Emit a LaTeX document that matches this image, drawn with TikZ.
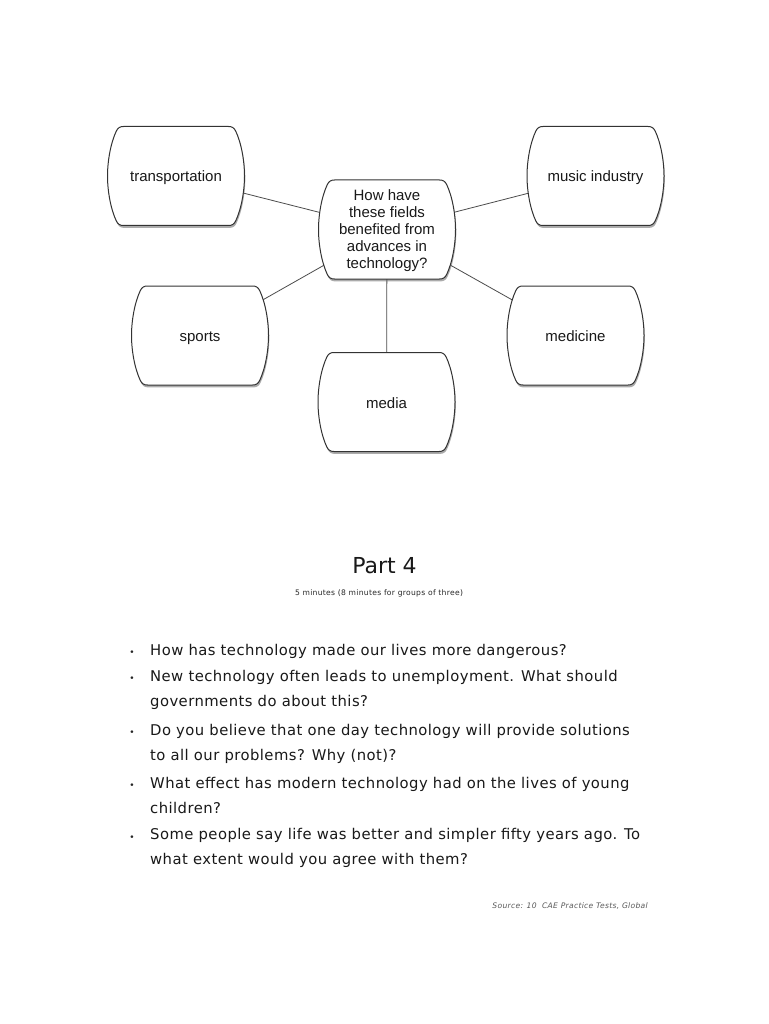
\documentclass[tikz,border=0pt]{standalone}
\usepackage{fontspec}
\setmainfont{Liberation Sans}
\newfontfamily\verd{DejaVu Sans}[LetterSpace=3]
\newfontfamily\verdsmall{DejaVu Sans}[LetterSpace=4]
\newfontfamily\verdplain{DejaVu Sans}
\usetikzlibrary{calc,backgrounds,shadows}
\tikzset{
  field/.style={rectangle, inner sep=0pt, outer sep=0pt, minimum width=137pt, minimum height=99pt, align=center, font=\fontsize{15}{17}\selectfont, text=black!90},
  one/.style={text height=12pt, text depth=0pt},
  bub/.style={draw=black!80, line width=1pt, fill=white, drop shadow={shadow xshift=0.8pt, shadow yshift=-2.4pt, fill=black!55, opacity=0.6}},
  link/.style={draw=black!70, line width=0.8pt},
  ques/.style={anchor=base west, align=left, inner sep=0pt, font=\verd\fontsize{14.8}{25}\selectfont, text=black!90},
  dot/.style={anchor=base, inner sep=0pt, font=\verdplain\fontsize{9}{9}\selectfont, text=black!85},
  small/.style={anchor=base, inner sep=0pt, font=\verdsmall\fontsize{7.6}{9}\selectfont, text=black!85}
}
% outline of one field box: flat top and bottom, bulging sides
\newcommand{\bubble}[1]{%
  \filldraw[bub] ($(#1.north west)+(16,0)$) -- ($(#1.north east)+(-16,0)$)
    .. controls +(3.5,0) and +(-1.6,-3.3) .. ($(#1.north east)+(-8.8,4.6)$)
    .. controls +(5.6,11.8) and +(0,-15) .. (#1.east)
    .. controls +(0,15) and +(5.6,-11.8) .. ($(#1.south east)+(-8.8,-4.6)$)
    .. controls +(-1.6,3.3) and +(3.5,0) .. ($(#1.south east)+(-16,0)$)
    -- ($(#1.south west)+(16,0)$)
    .. controls +(-3.5,0) and +(1.6,3.3) .. ($(#1.south west)+(8.8,-4.6)$)
    .. controls +(-5.6,-11.8) and +(0,15) .. (#1.west)
    .. controls +(0,-15) and +(-5.6,11.8) .. ($(#1.north west)+(8.8,4.6)$)
    .. controls +(1.6,-3.3) and +(-3.5,0) .. ($(#1.north west)+(16,0)$) -- cycle;
}

\begin{document}
\begin{tikzpicture}[x=1pt, y=-1pt]
    \useasboundingbox (0,0) rectangle (768,1024);

    % TOP: spider diagram
    \node[field, text depth=-2pt] (quest) at (387, 229.5) {How have\\these fields\\benefited from\\advances in\\technology?};
    \node[field, one] (trans) at (176, 176) {transportation};
    \node[field, one] (music) at (595.5, 176) {music industry};
    \node[field, one] (sports) at (200, 335.5) {sports};
    \node[field, one] (medic) at (575.5, 335.5) {medicine};
    \node[field, one] (media) at (386.5, 402) {media};

    \begin{scope}[on background layer]
      \fill[white] (0,0) rectangle (768,1024);
      \draw[link] (trans.center) -- (quest.center);
      \draw[link] (music.center) -- (quest.center);
      \draw[link] (sports.center) -- (quest.center);
      \draw[link] (medic.center) -- (quest.center);
      \draw[link] (quest.center) -- (media.center);
      \foreach \n in {quest,trans,music,sports,medic,media} {\bubble{\n}}
    \end{scope}

    % BOTTOM: Part 4 questions (base = last line)
    \node[anchor=base, inner sep=0pt, font=\verdplain\fontsize{22}{22}\selectfont, text=black!90] (part) at (384.5, 573) {Part 4};
    \node[small] (time) at (379, 595) {5 minutes (8 minutes for groups of three)};

    \node[dot] (b1) at (132, 655) {•};
    \node[ques] (q1) at (150, 655) {How has technology made our lives more dangerous?};
    \node[dot] (b2) at (132, 681.5) {•};
    \node[ques] (q2) at (150, 706) {New technology often leads to unemployment. What should\\governments do about this?};
    \node[dot] (b3) at (132, 735) {•};
    \node[ques] (q3) at (150, 760) {Do you believe that one day technology will provide solutions\\to all our problems? Why (not)?};
    \node[dot] (b4) at (132, 788.5) {•};
    \node[ques] (q4) at (150, 813) {What effect has modern technology had on the lives of young\\children?};
    \node[dot] (b5) at (132, 840) {•};
    \node[ques] (q5) at (150, 864) {Some people say life was better and simpler fifty years ago. To\\what extent would you agree with them?};

    \node[small, anchor=base east, text=black!65, font=\verdsmall\itshape\fontsize{7.6}{9}\selectfont] (src) at (648, 908) {Source: 10\ \ CAE Practice Tests, Global};
\end{tikzpicture}
\end{document}
